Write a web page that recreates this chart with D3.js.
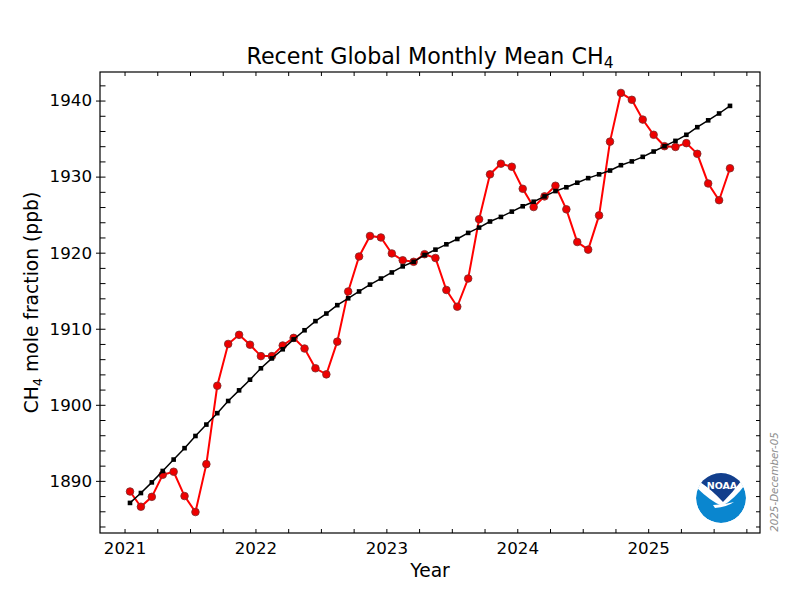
<!DOCTYPE html>
<html><head><meta charset="utf-8">
<script src="https://cdn.jsdelivr.net/npm/d3@7"></script>
<style>body{margin:0;background:#fff}svg{display:block}text{font-family:"DejaVu Sans",sans-serif}</style>
</head><body><svg id="chart" width="800" height="600"></svg>
<script>
const years = [2021, 2022, 2023, 2024, 2025];
const monthly = [
  1888.6,1886.6,1887.9,1890.8,1891.2,1888.0,1885.9,1892.2,1902.5,1908.0,1909.2,1907.9,
  1906.4,1906.4,1907.8,1908.8,1907.4,1904.8,1904.0,1908.3,1914.9,1919.5,1922.2,1922.0,
  1919.9,1919.0,1918.8,1919.8,1919.3,1915.1,1912.9,1916.6,1924.4,1930.3,1931.7,1931.3,
  1928.4,1926.0,1927.4,1928.8,1925.7,1921.4,1920.4,1924.9,1934.6,1941.0,1940.1,1937.5,
  1935.5,1934.0,1933.9,1934.4,1933.0,1929.1,1926.9,1931.1
];
const trend = [
  1887.1,1888.4,1889.8,1891.3,1892.8,1894.3,1895.9,1897.4,1898.9,1900.5,1901.9,1903.3,
  1904.8,1906.1,1907.3,1908.6,1909.8,1911.0,1912.0,1913.1,1914.0,1914.9,1915.8,1916.6,
  1917.4,1918.2,1918.8,1919.7,1920.4,1921.1,1921.8,1922.6,1923.3,1924.1,1924.7,1925.4,
  1926.1,1926.7,1927.4,1928.1,1928.6,1929.2,1929.8,1930.3,1930.8,1931.5,1932.0,1932.6,
  1933.3,1934.0,1934.7,1935.5,1936.5,1937.4,1938.3,1939.3
];
const yTicks = [1890, 1900, 1910, 1920, 1930, 1940];
const startYear = 2021;
const stampText = "2025-December-05";

const decYear = i => startYear + (i + 0.5) / 12;
const svg = d3.select("#chart");
const L = 100, R = 760, T = 72, B = 533;

const xs = monthly.map((_, i) => decYear(i));
const xe = d3.extent(xs), xp = (xe[1] - xe[0]) * 0.05;
const allY = monthly.concat(trend);
const ye = d3.extent(allY), yp = (ye[1] - ye[0]) * 0.05;
const x = d3.scaleLinear().domain([xe[0] - xp, xe[1] + xp]).range([L, R]);
const y = d3.scaleLinear().domain([ye[0] - yp, ye[1] + yp]).range([B, T]);

const xMinor = d3.range(2020.75, 2026, 0.25).filter(v => v >= x.domain()[0] && v <= x.domain()[1]);
const yMinor = d3.range(1884, 1944, 2).filter(v => v >= y.domain()[0] && v <= y.domain()[1] && v % 10 !== 0);

// axes
svg.append("g").attr("transform", `translate(0,${B})`)
  .call(d3.axisBottom(x).tickValues(years).tickFormat(d3.format("d")).tickSizeInner(-4).tickSizeOuter(0).tickPadding(9));
svg.append("g").attr("transform", `translate(0,${T})`)
  .call(d3.axisTop(x).tickValues(xMinor).tickFormat("").tickSizeInner(-4).tickSizeOuter(0));
svg.append("g").attr("transform", `translate(0,${B})`)
  .call(d3.axisBottom(x).tickValues(xMinor.filter(v => !years.includes(v))).tickFormat("").tickSizeInner(-4).tickSizeOuter(0));
const ay = svg.append("g").attr("transform", `translate(${L},0)`)
  .call(d3.axisLeft(y).tickValues(yTicks).tickFormat(d3.format("d")).tickSizeInner(4).tickSizeOuter(0).tickPadding(4));
ay.selectAll(".tick line").attr("x1", 5.5);
svg.append("g").attr("transform", `translate(${L},0)`)
  .call(d3.axisLeft(y).tickValues(yMinor).tickFormat("").tickSizeInner(-5.5).tickSizeOuter(0));
svg.append("g").attr("transform", `translate(${R},0)`)
  .call(d3.axisRight(y).tickValues(yTicks.concat(yMinor)).tickFormat("").tickSizeInner(-4).tickSizeOuter(0));
svg.selectAll(".domain").remove();
svg.selectAll(".tick line").attr("stroke", "#000").attr("stroke-width", 1);
svg.selectAll(".tick text").attr("font-size", 16.7).attr("fill", "#000").attr("font-family", "DejaVu Sans");

svg.append("rect").attr("x", L).attr("y", T).attr("width", R - L).attr("height", B - T)
  .attr("fill", "none").attr("stroke", "#000").attr("stroke-width", 1.2);

// red monthly
const line = d3.line().x((d, i) => x(decYear(i))).y(d => y(d));
svg.append("path").datum(monthly).attr("d", line).attr("fill", "none").attr("stroke", "#ff0000").attr("stroke-width", 2);
svg.append("g").selectAll("circle").data(monthly).join("circle")
  .attr("cx", (d, i) => x(decYear(i))).attr("cy", d => y(d)).attr("r", 3.8)
  .attr("fill", "#ee0000").attr("stroke", "#7a2a2a").attr("stroke-width", 0.8);

// black trend
svg.append("path").datum(trend).attr("d", line).attr("fill", "none").attr("stroke", "#000").attr("stroke-width", 1.5);
svg.append("g").selectAll("rect").data(trend).join("rect")
  .attr("x", (d, i) => x(decYear(i)) - 2.3).attr("y", d => y(d) - 2.3).attr("width", 4.6).attr("height", 4.6)
  .attr("fill", "#000");

// title & labels
const title = svg.append("text").attr("x", (L + R) / 2).attr("y", 64).attr("text-anchor", "middle").attr("font-size", 22.2).attr("fill", "#000");
title.append("tspan").text("Recent Global Monthly Mean CH");
title.append("tspan").text("4").attr("font-size", 15.5).attr("dy", 4);

svg.append("text").attr("x", (L + R) / 2).attr("y", 577).attr("text-anchor", "middle").attr("font-size", 18.7).attr("fill", "#000").text("Year");

const yl = svg.append("text").attr("transform", `translate(38,${(T + B) / 2}) rotate(-90)`).attr("text-anchor", "middle").attr("font-size", 18.7).attr("fill", "#000");
yl.append("tspan").text("CH");
yl.append("tspan").text("4").attr("font-size", 13).attr("dy", 4);
yl.append("tspan").text(" mole fraction (ppb)").attr("dy", -4);

svg.append("text").attr("transform", "translate(778,482) rotate(-90)").attr("text-anchor", "middle")
  .attr("font-size", 10.3).attr("font-style", "italic").attr("fill", "#8c8c8c").text(stampText);

// NOAA logo
const cx = 721, cy = 498, r = 25;
const defs = svg.append("defs");
defs.append("clipPath").attr("id", "lc").append("circle").attr("cx", cx).attr("cy", cy).attr("r", r);
const lg = svg.append("g").attr("clip-path", "url(#lc)");
lg.append("circle").attr("cx", cx).attr("cy", cy).attr("r", r).attr("fill", "#0a86cf");
lg.append("path").attr("fill", "#fff")
  .attr("d", `M${cx-26},${cy-12} Q${cx-11},${cy+3} ${cx+1},${cy+8} Q${cx+14},${cy+1} ${cx+26},${cy-16} L${cx+26},${cy-30} L${cx-26},${cy-30} Z`);
lg.append("path").attr("fill", "#fff")
  .attr("d", `M${cx-8},${cy+7} Q${cx+3},${cy+7} ${cx+13},${cy+4} Q${cx+6},${cy+9} ${cx-6},${cy+10} Z`);
lg.append("path").attr("fill", "#123e8c")
  .attr("d", `M${cx-21},${cy-16} Q${cx-9},${cy-8} ${cx+2},${cy+4} Q${cx+12},${cy-6} ${cx+21},${cy-18} L${cx+21},${cy-30} L${cx-21},${cy-30} Z`);
svg.append("text").attr("x", cx + 1).attr("y", cy - 9.5).attr("text-anchor", "middle").attr("font-size", 9.5)
  .attr("font-weight", "bold").attr("fill", "#fff").attr("font-family", "DejaVu Sans Condensed, DejaVu Sans").text("NOAA");
</script></body></html>
